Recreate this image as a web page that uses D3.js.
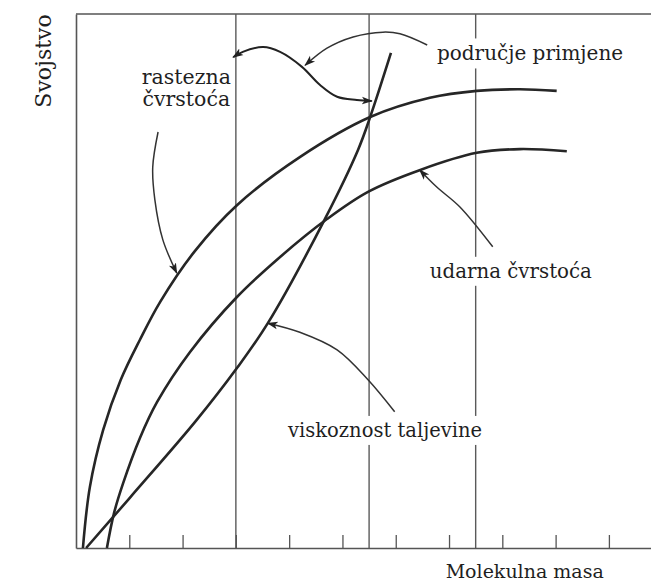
<!DOCTYPE html>
<html>
<head>
<meta charset="utf-8">
<script src="https://cdn.jsdelivr.net/npm/d3@7/dist/d3.min.js"></script>
<style>
  body { margin: 0; background: #fff; }
  text { font-family: "DejaVu Serif", serif; fill: #1f1f1f; }
</style>
</head>
<body>
<svg id="chart"></svg>
<script>
// curves (x = molekulna masa, y = svojstvo, arbitrary units)
const tensileStrength = [[0.13, 0], [0.26, 1.14], [0.51, 2.21], [0.84, 3.15], [1.20, 3.90], [1.58, 4.61],
  [2.23, 5.56], [3.02, 6.42], [4.20, 7.32], [5.52, 8.07], [6.64, 8.43], [7.52, 8.56], [8.33, 8.59], [9.02, 8.56]];
const impactStrength = [[0.58, 0], [0.71, 0.64], [0.88, 1.20], [1.20, 2.06], [1.52, 2.73], [2.14, 3.67],
  [3.02, 4.70], [3.83, 5.45], [4.71, 6.16], [5.48, 6.67], [6.46, 7.08], [7.52, 7.40], [8.33, 7.47], [9.21, 7.43]];
const meltViscosity = [[0.19, 0], [1.01, 0.94], [2.25, 2.38], [3.02, 3.37], [3.60, 4.21], [4.67, 6.16],
  [5.29, 7.45], [5.52, 8.07], [5.91, 9.27]];

// bounds of the application range
const rangeLines = [3, 5.5, 7.5];
const xTicks = [1, 2, 3, 4, 5, 6, 7, 8, 9, 10];

// annotation arrows (same units)
const tensileArrow = [[1.54, 7.79], [1.44, 7.13], [1.48, 6.52], [1.63, 5.77], [1.89, 5.15]];
const rangeArrowS = [[2.95, 9.19], [3.13, 9.29], [3.51, 9.38], [3.83, 9.29], [4.24, 9.01], [4.58, 8.67],
  [4.90, 8.45], [5.27, 8.39], [5.55, 8.37]];
const rangeArrow = [[6.59, 9.42], [6.08, 9.63], [5.76, 9.66], [5.20, 9.57], [4.71, 9.36], [4.30, 9.04]];
const impactArrow = [[7.82, 5.64], [7.20, 6.39], [6.77, 6.76], [6.45, 7.08]];
const viscosityArrow = [[5.98, 2.55], [5.48, 3.15], [4.90, 3.71], [4.20, 4.04], [3.60, 4.21]];

const xLabel = 'Molekulna masa';
const yLabel = 'Svojstvo';

const width = 651;
const height = 587;

let svg = d3.select('#chart').attr('width', width).attr('height', height);

let xScale = d3.scaleLinear().domain([0, 10.79]).range([76, 651]);
let yScale = d3.scaleLinear().domain([0, 10]).range([548, 14]);

let smooth = d3.line()
  .x(d => xScale(d[0]))
  .y(d => yScale(d[1]))
  .curve(d3.curveCatmullRom.alpha(0.5));

// arrowhead
svg.append('defs').append('marker')
  .attr('id', 'head')
  .attr('viewBox', '0 0 10 10')
  .attr('refX', 9).attr('refY', 5)
  .attr('markerWidth', 11).attr('markerHeight', 11)
  .attr('markerUnits', 'userSpaceOnUse')
  .attr('orient', 'auto-start-reverse')
  .append('path')
  .attr('d', 'M0,1.5 L10,5 L0,8.5 L2.5,5 Z')
  .attr('fill', '#222');

// frame
svg.append('line')
  .attr('x1', xScale(0)).attr('x2', xScale(10.79))
  .attr('y1', yScale(10)).attr('y2', yScale(10))
  .attr('stroke', '#555').attr('stroke-width', 1.6);

let yAxis = d3.axisLeft(yScale).tickValues([]).tickSizeOuter(0);
svg.append('g')
  .attr('transform', 'translate(' + xScale(0) + ',0)')
  .call(yAxis)
  .call(g => g.select('.domain').attr('stroke', '#555').attr('stroke-width', 1.6));

rangeLines.forEach(v => {
  svg.append('line')
    .attr('x1', xScale(v)).attr('x2', xScale(v))
    .attr('y1', yScale(10)).attr('y2', yScale(0))
    .attr('stroke', '#5a5a5a').attr('stroke-width', 1.4);
});

let xAxis = d3.axisBottom(xScale)
  .tickValues(xTicks)
  .tickSize(-13)
  .tickSizeOuter(0)
  .tickFormat('');
svg.append('g')
  .attr('transform', 'translate(0,' + yScale(0) + ')')
  .call(xAxis)
  .call(g => g.select('.domain').attr('stroke', '#555').attr('stroke-width', 1.6))
  .call(g => g.selectAll('.tick line').attr('stroke', '#555').attr('stroke-width', 1.3));

// labels with a white knock-out behind them
let label = (lines, cx, baseline, lineGap, size) => {
  let g = svg.append('g');
  let bg = g.append('g');
  lines.forEach((t, i) => {
    let txt = g.append('text')
      .attr('x', cx).attr('y', baseline + i * lineGap)
      .attr('text-anchor', 'middle')
      .attr('font-size', size)
      .text(t);
    let b = txt.node().getBBox();
    bg.append('rect')
      .attr('x', b.x - 3).attr('y', b.y - 3)
      .attr('width', b.width + 6).attr('height', b.height + 6)
      .attr('fill', '#fff');
  });
};

// main curves
[tensileStrength, impactStrength, meltViscosity].forEach(s => {
  svg.append('path')
    .attr('d', smooth(s))
    .attr('fill', 'none')
    .attr('stroke', '#262626')
    .attr('stroke-width', 2.6);
});

label(['rastezna', 'čvrstoća'], xScale(2.07), yScale(8.68), 22, 20.5);
label(['područje primjene'], xScale(8.52), yScale(9.13), 0, 20);
label(['udarna čvrstoća'], xScale(8.16), yScale(5.06), 0, 19.8);
label(['viskoznost taljevine'], xScale(5.8), yScale(2.08), 0, 19.5);

// arrows
[tensileArrow, rangeArrow, impactArrow, viscosityArrow].forEach(a => {
  svg.append('path')
    .attr('d', smooth(a))
    .attr('fill', 'none')
    .attr('stroke', '#333')
    .attr('stroke-width', 1.5)
    .attr('marker-end', 'url(#head)');
});
svg.append('path')
  .attr('d', smooth(rangeArrowS))
  .attr('fill', 'none')
  .attr('stroke', '#222')
  .attr('stroke-width', 2)
  .attr('marker-start', 'url(#head)')
  .attr('marker-end', 'url(#head)');

// axis titles
svg.append('text')
  .attr('x', xScale(8.42)).attr('y', 578)
  .attr('text-anchor', 'middle')
  .attr('font-size', 19)
  .text(xLabel);

svg.append('text')
  .attr('transform', 'translate(51,' + 61 + ') rotate(-90)')
  .attr('text-anchor', 'middle')
  .attr('font-size', 22)
  .text(yLabel);
</script>
</body>
</html>
